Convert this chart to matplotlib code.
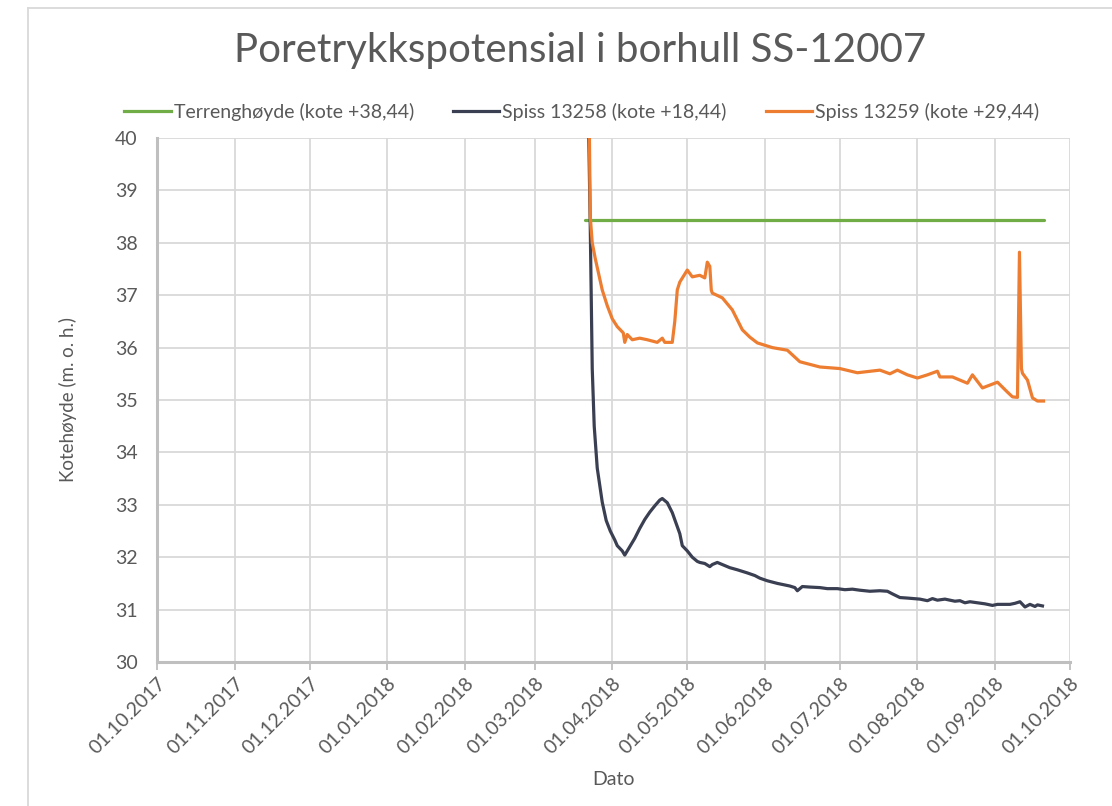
import matplotlib
matplotlib.use("Agg")
import matplotlib.pyplot as plt
import matplotlib.dates as mdates
import pandas as pd
from matplotlib.lines import Line2D

# Terrain level at the borehole
terreng_dates = ["2018-03-21 05:00", "2018-09-20 10:00"]
terreng_vals = [38.44, 38.44]

# Piezometer tip 13258 (kote +18,44)
spiss1_dates = [
    "2018-03-22 10:00", "2018-03-23 05:00", "2018-03-24 00:00", "2018-03-24 19:00",
    "2018-03-26", "2018-03-28", "2018-03-29 14:00", "2018-03-31 05:00",
    "2018-04-02", "2018-04-03", "2018-04-05", "2018-04-06", "2018-04-07",
    "2018-04-08", "2018-04-10", "2018-04-12", "2018-04-14", "2018-04-16",
    "2018-04-18", "2018-04-20", "2018-04-21", "2018-04-23", "2018-04-25",
    "2018-04-28", "2018-04-29", "2018-05-01", "2018-05-03", "2018-05-05",
    "2018-05-06", "2018-05-08", "2018-05-10", "2018-05-11", "2018-05-13",
    "2018-05-14", "2018-05-16", "2018-05-18", "2018-05-21", "2018-05-25",
    "2018-05-28", "2018-05-30", "2018-06-02", "2018-06-06", "2018-06-08",
    "2018-06-11", "2018-06-13", "2018-06-14", "2018-06-16", "2018-06-19",
    "2018-06-23", "2018-06-26", "2018-06-30", "2018-07-03", "2018-07-06",
    "2018-07-09", "2018-07-13", "2018-07-17", "2018-07-20", "2018-07-22",
    "2018-07-25", "2018-07-28", "2018-08-02", "2018-08-05", "2018-08-07",
    "2018-08-09", "2018-08-12", "2018-08-16", "2018-08-18", "2018-08-20",
    "2018-08-22", "2018-08-25", "2018-08-28", "2018-08-31", "2018-09-02",
    "2018-09-04", "2018-09-07", "2018-09-09", "2018-09-11", "2018-09-13",
    "2018-09-15", "2018-09-17", "2018-09-18", "2018-09-20",
]
spiss1_vals = [
    40.6, 38.3, 35.6, 34.5,
    33.7, 33.05, 32.7, 32.5,
    32.33, 32.22, 32.12, 32.04, 32.12,
    32.2, 32.36, 32.55, 32.72, 32.86,
    32.98, 33.09, 33.12, 33.04, 32.85,
    32.45, 32.22, 32.12, 32.0, 31.92,
    31.9, 31.88, 31.82, 31.86, 31.9,
    31.88, 31.84, 31.8, 31.76, 31.7,
    31.65, 31.6, 31.55, 31.5, 31.48,
    31.45, 31.42, 31.36, 31.44, 31.43,
    31.42, 31.4, 31.4, 31.38, 31.39,
    31.37, 31.35, 31.36, 31.35, 31.3,
    31.23, 31.22, 31.2, 31.17, 31.21,
    31.18, 31.2, 31.16, 31.17, 31.13,
    31.15, 31.13, 31.11, 31.08, 31.1,
    31.1, 31.1, 31.12, 31.15, 31.05,
    31.1, 31.06, 31.09, 31.07,
]

# Piezometer tip 13259 (kote +29,44)
spiss2_dates = [
    "2018-03-22 19:00", "2018-03-23 05:00", "2018-03-24 00:00", "2018-03-25 05:00",
    "2018-03-28", "2018-03-30", "2018-04-01", "2018-04-03", "2018-04-05 10:00",
    "2018-04-06", "2018-04-07", "2018-04-09", "2018-04-12", "2018-04-15",
    "2018-04-19", "2018-04-21", "2018-04-22", "2018-04-25", "2018-04-26",
    "2018-04-27", "2018-04-28", "2018-05-01", "2018-05-03", "2018-05-06",
    "2018-05-08", "2018-05-09", "2018-05-10", "2018-05-10 14:00", "2018-05-11",
    "2018-05-15", "2018-05-19", "2018-05-23", "2018-05-26", "2018-05-29",
    "2018-06-04", "2018-06-10", "2018-06-15", "2018-06-23", "2018-07-01",
    "2018-07-08", "2018-07-17", "2018-07-21", "2018-07-24", "2018-07-28",
    "2018-08-01", "2018-08-05", "2018-08-09", "2018-08-10", "2018-08-15",
    "2018-08-21", "2018-08-23", "2018-08-27", "2018-09-02", "2018-09-06",
    "2018-09-08", "2018-09-10", "2018-09-10 19:00", "2018-09-11 14:00",
    "2018-09-12", "2018-09-14", "2018-09-16", "2018-09-18", "2018-09-20 10:00",
]
spiss2_vals = [
    40.4, 38.5, 38.0, 37.7,
    37.1, 36.8, 36.55, 36.4, 36.28,
    36.1, 36.25, 36.15, 36.18, 36.15,
    36.1, 36.18, 36.1, 36.1, 36.5,
    37.1, 37.25, 37.48, 37.35, 37.38,
    37.33, 37.63, 37.55, 37.1, 37.04,
    36.95, 36.72, 36.34, 36.2, 36.09,
    36.0, 35.95, 35.73, 35.63, 35.6,
    35.52, 35.57, 35.5, 35.57, 35.48,
    35.42, 35.48, 35.55, 35.44, 35.44,
    35.32, 35.48, 35.23, 35.34, 35.15,
    35.06, 35.05, 37.82, 35.6,
    35.51, 35.38, 35.04, 34.98, 34.98,
]

month_ticks = pd.date_range("2017-10-01", "2018-10-01", freq="MS")
y_ticks = list(range(30, 41))


def to_dt(values):
    return pd.to_datetime(values, format="ISO8601")


TXT = "#595959"
GRID = "#d9d9d9"
AXIS = "#bfbfbf"
plt.rcParams["font.family"] = ["Lato", "DejaVu Sans"]

fig = plt.figure(figsize=(11.12, 8.06), dpi=100)
ax = fig.add_axes([157 / 1112, 1 - 662 / 806, (1070 - 157) / 1112, (662 - 138) / 806])

ax.plot(to_dt(terreng_dates), terreng_vals, color="#70ad47", lw=2.3,
        solid_capstyle="round", zorder=3)
ax.plot(to_dt(spiss1_dates), spiss1_vals, color="#3a3f52", lw=2.3,
        solid_joinstyle="round", zorder=4)
ax.plot(to_dt(spiss2_dates), spiss2_vals, color="#ed7d31", lw=2.3,
        solid_joinstyle="round", zorder=5)

ax.set_xlim(month_ticks[0], month_ticks[-1])
ax.set_ylim(30, 40)
ax.set_xticks(month_ticks)
ax.xaxis.set_major_formatter(mdates.DateFormatter("%d.%m.%Y"))
ax.set_yticks(y_ticks)
ax.grid(True, color=GRID, lw=1.3)
ax.set_axisbelow(True)

for side in ("top", "right"):
    ax.spines[side].set_visible(False)
for side in ("left", "bottom"):
    ax.spines[side].set_color(AXIS)
    ax.spines[side].set_linewidth(2.2)

ax.tick_params(axis="x", colors=AXIS, length=6, width=1.3, labelcolor=TXT,
               labelsize=14, pad=3)
ax.tick_params(axis="y", colors=AXIS, length=0, labelcolor=TXT, labelsize=14, pad=14)
for lab in ax.get_xticklabels():
    lab.set_rotation(45)
    lab.set_ha("right")
    lab.set_va("top")
    lab.set_rotation_mode("anchor")

ax.set_xlabel("Dato", color=TXT, fontsize=14, labelpad=10)
ax.set_ylabel("Kotehøyde (m. o. h.)", color=TXT, fontsize=13.5, labelpad=27)

fig.text(0.5216, 0.937, "Poretrykkspotensial i borhull SS-12007", ha="center",
         va="center", fontsize=29, color=TXT)

handles = [
    Line2D([], [], color="#70ad47", lw=2.3),
    Line2D([], [], color="#3a3f52", lw=2.3),
    Line2D([], [], color="#ed7d31", lw=2.3),
]
labels = ["Terrenghøyde (kote +38,44)", "Spiss 13258 (kote +18,44)",
          "Spiss 13259 (kote +29,44)"]
fig.legend(handles, labels, loc="center", bbox_to_anchor=(0.523, 0.861), ncol=3,
           frameon=False, fontsize=14, labelcolor=TXT, handlelength=2.4,
           handletextpad=0.15, columnspacing=2.0)

# chart-area frame edges
fig.add_artist(Line2D([28 / 1112, 28 / 1112], [0, 1 - 8 / 806],
                      transform=fig.transFigure, color=GRID, lw=1.3))
fig.add_artist(Line2D([28 / 1112, 1], [1 - 8 / 806, 1 - 8 / 806],
                      transform=fig.transFigure, color=GRID, lw=1.3))

fig.savefig("out.png", dpi=100)
